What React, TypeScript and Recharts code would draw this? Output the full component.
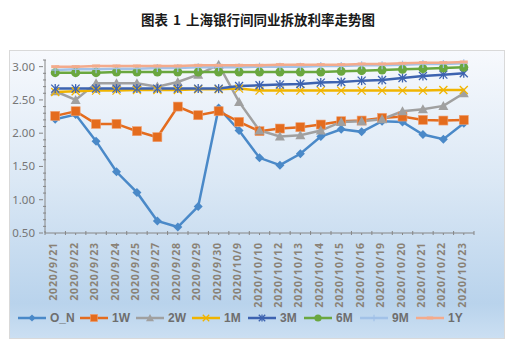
import { LineChart, Line, XAxis, YAxis, Legend } from "recharts";

const dates = [
  "2020/9/21", "2020/9/22", "2020/9/23", "2020/9/24", "2020/9/25", "2020/9/27", "2020/9/28",
  "2020/9/29", "2020/9/30", "2020/10/9", "2020/10/10", "2020/10/12", "2020/10/13", "2020/10/14",
  "2020/10/15", "2020/10/16", "2020/10/19", "2020/10/20", "2020/10/21", "2020/10/22", "2020/10/23",
];
const on = [2.21, 2.28, 1.88, 1.42, 1.11, 0.68, 0.59, 0.9, 2.38, 2.04, 1.63, 1.52, 1.69, 1.95, 2.06, 2.02, 2.18, 2.17, 1.98, 1.91, 2.15];
const w1 = [2.26, 2.33, 2.14, 2.14, 2.03, 1.94, 2.4, 2.27, 2.33, 2.17, 2.03, 2.07, 2.09, 2.13, 2.18, 2.19, 2.23, 2.25, 2.2, 2.19, 2.2];
const w2 = [2.63, 2.5, 2.75, 2.75, 2.75, 2.7, 2.77, 2.88, 3.03, 2.47, 2.04, 1.95, 1.97, 2.04, 2.17, 2.18, 2.21, 2.33, 2.36, 2.41, 2.6];
const m1 = [2.62, 2.63, 2.64, 2.64, 2.65, 2.65, 2.65, 2.66, 2.66, 2.67, 2.64, 2.64, 2.64, 2.64, 2.64, 2.64, 2.64, 2.64, 2.64, 2.65, 2.65];
const m3 = [2.67, 2.67, 2.67, 2.67, 2.67, 2.67, 2.67, 2.67, 2.67, 2.71, 2.72, 2.73, 2.74, 2.76, 2.77, 2.79, 2.8, 2.83, 2.86, 2.88, 2.9];
const m6 = [2.91, 2.91, 2.91, 2.92, 2.92, 2.92, 2.92, 2.92, 2.92, 2.92, 2.92, 2.92, 2.92, 2.92, 2.93, 2.94, 2.95, 2.96, 2.97, 2.98, 2.99];
const m9 = [2.95, 2.96, 2.96, 2.97, 2.97, 2.98, 2.98, 2.99, 2.99, 2.99, 3.0, 3.0, 3.0, 3.01, 3.01, 3.02, 3.02, 3.03, 3.04, 3.04, 3.05];
const y1 = [3.0, 3.0, 3.01, 3.01, 3.01, 3.01, 3.01, 3.02, 3.02, 3.02, 3.02, 3.03, 3.03, 3.03, 3.03, 3.04, 3.04, 3.05, 3.06, 3.06, 3.07];
const yTicks = [0.5, 0.6, 0.7, 0.8, 0.9, 1.0, 1.1, 1.2, 1.3, 1.4, 1.5, 1.6, 1.7, 1.8, 1.9, 2.0, 2.1, 2.2, 2.3, 2.4, 2.5, 2.6, 2.7, 2.8, 2.9, 3.0, 3.1];

const series = [
  { key: "O_N", values: on, color: "#4a89c8", shape: "diamond" },
  { key: "1W", values: w1, color: "#e46c1e", shape: "square" },
  { key: "2W", values: w2, color: "#a0a0a0", shape: "triangle" },
  { key: "1M", values: m1, color: "#f0b400", shape: "x" },
  { key: "3M", values: m3, color: "#3d63b0", shape: "star" },
  { key: "6M", values: m6, color: "#6aa73f", shape: "circle" },
  { key: "9M", values: m9, color: "#a2c2e8", shape: "plus" },
  { key: "1Y", values: y1, color: "#f4ab8c", shape: "dash" },
];

const data = dates.map((d, i) => {
  const row: any = { date: d };
  series.forEach((s) => (row[s.key] = s.values[i]));
  return row;
});

function marker(shape: string, color: string, cx: number, cy: number, k = 1) {
  switch (shape) {
    case "diamond":
      return <polygon points={`${cx},${cy - 4.5 * k} ${cx + 4.5 * k},${cy} ${cx},${cy + 4.5 * k} ${cx - 4.5 * k},${cy}`} fill={color} />;
    case "square":
      return <rect x={cx - 4.5 * k} y={cy - 4.5 * k} width={9 * k} height={9 * k} fill={color} stroke="#f0a070" strokeWidth={0.6} />;
    case "triangle":
      return <polygon points={`${cx},${cy - 5 * k} ${cx + 5 * k},${cy + 4 * k} ${cx - 5 * k},${cy + 4 * k}`} fill={color} />;
    case "x":
      return (
        <g stroke={color} strokeWidth={1.3}>
          <line x1={cx - 4 * k} y1={cy - 4 * k} x2={cx + 4 * k} y2={cy + 4 * k} />
          <line x1={cx - 4 * k} y1={cy + 4 * k} x2={cx + 4 * k} y2={cy - 4 * k} />
        </g>
      );
    case "star":
      return (
        <g stroke={color} strokeWidth={1.3}>
          <line x1={cx - 4 * k} y1={cy - 4 * k} x2={cx + 4 * k} y2={cy + 4 * k} />
          <line x1={cx - 4 * k} y1={cy + 4 * k} x2={cx + 4 * k} y2={cy - 4 * k} />
          <line x1={cx} y1={cy - 4.5 * k} x2={cx} y2={cy + 4.5 * k} />
        </g>
      );
    case "circle":
      return <circle cx={cx} cy={cy} r={4.5 * k} fill={color} />;
    case "plus":
      return (
        <g stroke={color} strokeWidth={1.2}>
          <line x1={cx - 4 * k} y1={cy} x2={cx + 4 * k} y2={cy} />
          <line x1={cx} y1={cy - 4 * k} x2={cx} y2={cy + 4 * k} />
        </g>
      );
    default:
      return <line x1={cx - 4 * k} y1={cy} x2={cx + 4 * k} y2={cy} stroke={color} strokeWidth={3} />;
  }
}

const makeDot = (shape: string, color: string) => (p: any) => (
  <g key={p.index}>{marker(shape, color, p.cx, p.cy)}</g>
);

const YTick = (p: any) => {
  const v = p.payload.value;
  const major = Math.abs(v * 2 - Math.round(v * 2)) < 0.001;
  return (
    <g>
      {major ? (
        <>
          <line x1={p.x - 4} y1={p.y} x2={p.x} y2={p.y} stroke="#868686" />
          <text x={p.x - 8} y={p.y} dy={4} textAnchor="end" fontSize={11.5} fill="#767676" fontFamily="Noto Sans">
            {v.toFixed(2)}
          </text>
        </>
      ) : (
        <line x1={p.x} y1={p.y} x2={p.x + 3} y2={p.y} stroke="#868686" />
      )}
    </g>
  );
};

const HALF_BAND = 10.2;
const XTick = (p: any) => (
  <g>
    <line x1={p.x - HALF_BAND} y1={p.y} x2={p.x - HALF_BAND} y2={p.y - 4} stroke="#868686" />
    <line x1={p.x} y1={p.y} x2={p.x} y2={p.y - 2} stroke="#868686" />
    {p.index === dates.length - 1 && (
      <line x1={p.x + HALF_BAND} y1={p.y} x2={p.x + HALF_BAND} y2={p.y - 4} stroke="#868686" />
    )}
    <text
      transform={`translate(${p.x + 2},${p.y + 7}) rotate(-90)`}
      textAnchor="end"
      fontSize={10.5}
      fontWeight="bold"
      letterSpacing={0.9}
      fill="#8a8276"
      fontFamily="Noto Sans"
    >
      {p.payload.value}
    </text>
  </g>
);

const LegendBox = () => (
  <div style={{ height: 30, display: "flex", alignItems: "center", justifyContent: "center", gap: 2, paddingLeft: 4 }}>
    {series.map((s) => (
      <div key={s.key} style={{ display: "flex", alignItems: "center", gap: 4 }}>
        <svg width={28} height={12}>
          <line x1={0} y1={6} x2={28} y2={6} stroke={s.color} strokeWidth={2.5} />
          {marker(s.shape, s.color, 14, 6, 0.8)}
        </svg>
        <span style={{ fontSize: 12, fontWeight: "bold", color: "#6e6e6e", fontFamily: "Liberation Sans", width: s.key === "O_N" ? 28 : 22 }}>
          {s.key}
        </span>
      </div>
    ))}
  </div>
);

export default function App() {
  return (
    <div style={{ position: "absolute", left: 0, top: 0, width: 516, height: 348, background: "#fff" }}>
      <div
        style={{
          position: "absolute",
          top: 9,
          width: 516,
          textAlign: "center",
          fontSize: 13.5,
          fontWeight: "bold",
          color: "#1a1a1a",
          fontFamily: "Noto Sans CJK SC",
          wordSpacing: 2,
        }}
      >
        图表 1 上海银行间同业拆放利率走势图
      </div>
      <div
        style={{
          position: "absolute",
          left: 9,
          top: 50,
          width: 494,
          height: 287,
          border: "1px solid #d9d9d9",
          background: "linear-gradient(to bottom, #f7f9fd 0%, #dbe8f5 45%, #b9d3ec 88%, #cbdff2 100%)",
        }}
      >
        <LineChart width={494} height={287} data={data} margin={{ top: 9, right: 30, bottom: 5, left: 0 }}>
          <XAxis
            dataKey="date"
            scale="band"
            interval={0}
            height={70}
            stroke="#868686"
            tickLine={false}
            tickSize={0}
            tick={<XTick />}
          />
          <YAxis
            width={35}
            domain={[0.5, 3.1]}
            ticks={yTicks}
            interval={0}
            stroke="#868686"
            tickLine={false}
            tickSize={0}
            tick={<YTick />}
          />
          <Legend verticalAlign="bottom" height={30} content={() => <LegendBox />} />
          {series.map((s) => (
            <Line
              key={s.key}
              dataKey={s.key}
              stroke={s.color}
              strokeWidth={2.5}
              dot={makeDot(s.shape, s.color)}
              activeDot={false}
              isAnimationActive={false}
            />
          ))}
        </LineChart>
      </div>
    </div>
  );
}
